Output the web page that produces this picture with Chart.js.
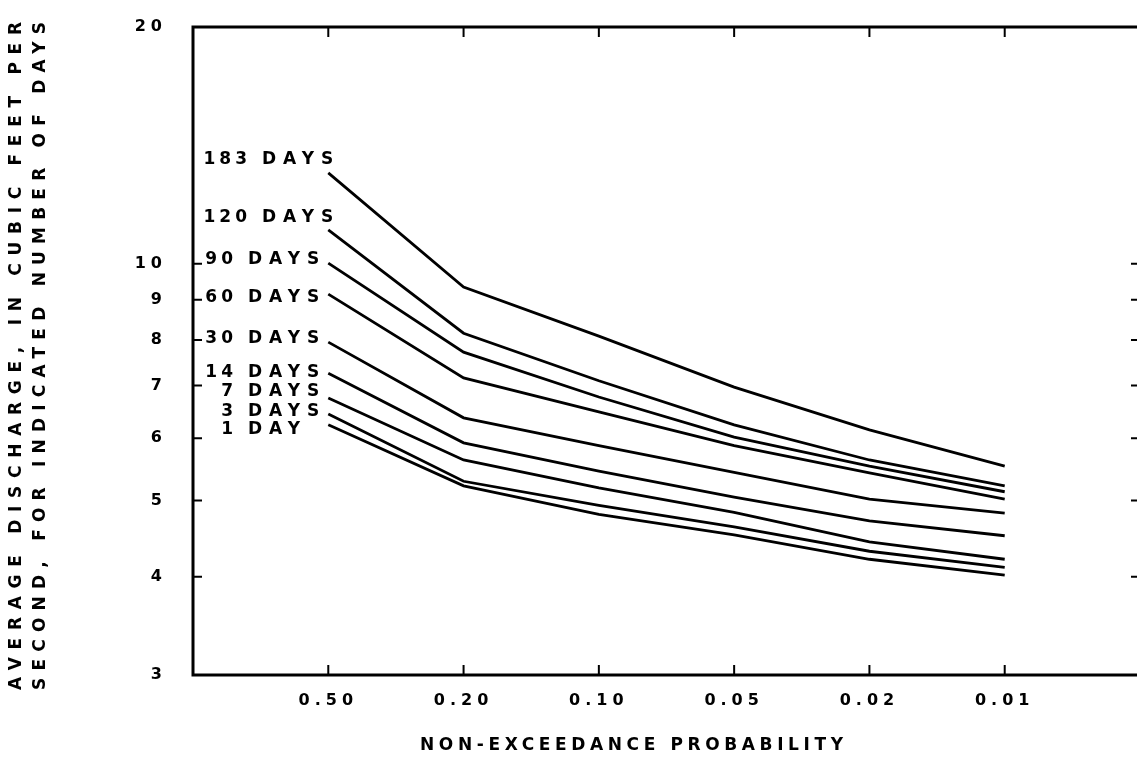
<!DOCTYPE html>
<html>
<head>
<meta charset="utf-8">
<script src="https://cdn.jsdelivr.net/npm/chart.js@4.4.1/dist/chart.umd.min.js"></script>
<style>
  html, body { margin: 0; padding: 0; background: #fff; overflow: hidden; }
  #wrap { width: 1150px; height: 771px; }
</style>
</head>
<body>
<div id="wrap"><canvas id="chart" width="1150" height="771"></canvas></div>
<script>
// x categories (non-exceedance probability) and y tick values
const probLabels = ['0.50', '0.20', '0.10', '0.05', '0.02', '0.01'];
const yTickValues = [3, 4, 5, 6, 7, 8, 9, 10, 20];

// curve labels, top to bottom
const durationLabels = ['183 DAYS', '120 DAYS', '90 DAYS', '60 DAYS', '30 DAYS', '14 DAYS', '7 DAYS', '3 DAYS', '1 DAY'];

// average discharge (cfs) at each probability
const days183 = [13.05, 9.34, 8.09, 6.97, 6.15, 5.53];
const days120 = [11.04, 8.16, 7.10, 6.24, 5.63, 5.22];
const days90  = [10.02, 7.72, 6.77, 6.02, 5.53, 5.13];
const days60  = [9.15, 7.16, 6.48, 5.87, 5.42, 5.02];
const days30  = [7.95, 6.37, 5.87, 5.43, 5.02, 4.82];
const days14  = [7.26, 5.92, 5.45, 5.05, 4.71, 4.51];
const days7   = [6.75, 5.63, 5.19, 4.83, 4.43, 4.21];
const days3   = [6.44, 5.29, 4.93, 4.63, 4.31, 4.11];
const days1   = [6.24, 5.22, 4.80, 4.52, 4.21, 4.02];

const series = [days183, days120, days90, days60, days30, days14, days7, days3, days1];

const FONT = '"DejaVu Sans", "Liberation Sans", sans-serif';

// vertical nudge of each curve label from the curve's first point (px)
const labelNudge = [-13, -12, -3, 3, -4, -1, -6, -2, 5];

const drawSpaced = (ctx, text, x, y, spacing) => {
  ctx.letterSpacing = spacing + 'px';
  ctx.fillText(text, x, y);
};

const framePlugin = {
  id: 'frame',
  beforeDraw(chart) {
    // wide tracking for the axis tick labels
    chart.ctx.letterSpacing = '5px';
  },
  afterDraw(chart) {
    const { ctx, chartArea: a, scales: { x, y } } = chart;
    ctx.save();
    ctx.letterSpacing = '0px';
    ctx.strokeStyle = '#000';
    ctx.fillStyle = '#000';

    // frame
    ctx.lineWidth = 3;
    ctx.strokeRect(a.left, a.top, a.right - a.left, a.bottom - a.top);

    // inward tick marks
    ctx.lineWidth = 2;
    ctx.beginPath();
    probLabels.forEach((_, i) => {
      const px = x.getPixelForValue(i);
      ctx.moveTo(px, a.top); ctx.lineTo(px, a.top + 10);
      ctx.moveTo(px, a.bottom); ctx.lineTo(px, a.bottom - 10);
    });
    yTickValues.filter(v => v > 3 && v < 20).forEach(v => {
      const py = y.getPixelForValue(v);
      ctx.moveTo(a.left, py); ctx.lineTo(a.left + 9, py);
      ctx.moveTo(a.right, py); ctx.lineTo(a.right - 9, py);
    });
    ctx.stroke();

    // curve labels
    ctx.font = 'bold 17px ' + FONT;
    ctx.textBaseline = 'middle';
    ctx.textAlign = 'left';
    const sp = 7;
    durationLabels.forEach((lab, i) => {
      const [num, word] = lab.split(' ');
      const y0 = y.getPixelForValue(series[i][0]) + labelNudge[i];
      const wordX = num.length === 3 ? a.left + 69 : a.left + 55;
      drawSpaced(ctx, word, wordX, y0, sp);
      ctx.letterSpacing = '4px';
      const w = ctx.measureText(num).width - 4;
      drawSpaced(ctx, num, wordX - 15 - w, y0, 4);
    });

    // x axis title
    const xTitle = 'NON-EXCEEDANCE PROBABILITY';
    ctx.font = 'bold 17px ' + FONT;
    ctx.letterSpacing = '0px';
    const w0 = ctx.measureText(xTitle).width;
    drawSpaced(ctx, xTitle, 420, a.bottom + 71, (423 - w0) / (xTitle.length - 1));

    // y axis title (two rotated lines)
    const yTitle = ['AVERAGE DISCHARGE, IN CUBIC FEET PER', 'SECOND, FOR INDICATED NUMBER OF DAYS'];
    const cols = [17, 41];
    yTitle.forEach((t, i) => {
      ctx.save();
      ctx.translate(cols[i], 356);
      ctx.rotate(-Math.PI / 2);
      ctx.letterSpacing = '0px';
      const wt = ctx.measureText(t).width;
      drawSpaced(ctx, t, -334, 0, (668 - wt) / (t.length - 1));
      ctx.restore();
    });

    ctx.restore();
    ctx.letterSpacing = '0px';
  }
};

Chart.defaults.font.family = FONT;
Chart.defaults.font.weight = 'bold';
Chart.defaults.font.size = 16;
Chart.defaults.color = '#000';

new Chart(document.getElementById('chart'), {
  type: 'line',
  data: {
    datasets: series.map((vals, i) => ({
      label: durationLabels[i],
      data: vals.map((v, j) => ({ x: j, y: v })),
      borderColor: '#000',
      borderWidth: 2.8,
      pointRadius: 0,
      tension: 0,
      fill: false
    }))
  },
  options: {
    responsive: false,
    animation: false,
    layout: { padding: { top: 27, right: 10, left: 0, bottom: 0 } },
    plugins: {
      legend: { display: false },
      tooltip: { enabled: false }
    },
    scales: {
      x: {
        type: 'linear',
        min: -1,
        max: 6,
        grid: { display: false, drawTicks: false },
        border: { display: false },
        afterBuildTicks: s => { s.ticks = probLabels.map((_, i) => ({ value: i })); },
        afterFit: s => { s.height = 96; s.paddingLeft = 0; s.paddingRight = 0; },
        ticks: {
          autoSkip: false,
          maxRotation: 0,
          padding: 16,
          callback: v => probLabels[v] ?? ''
        }
      },
      y: {
        type: 'logarithmic',
        min: 3,
        max: 20,
        grid: { display: false, drawTicks: false },
        border: { display: false },
        afterBuildTicks: s => { s.ticks = yTickValues.map(v => ({ value: v })); },
        afterFit: s => { s.width = 193; s.paddingTop = 0; s.paddingBottom = 0; },
        ticks: {
          autoSkip: false,
          padding: 26,
          callback: v => String(v)
        }
      }
    }
  },
  plugins: [framePlugin]
});
</script>
</body>
</html>
